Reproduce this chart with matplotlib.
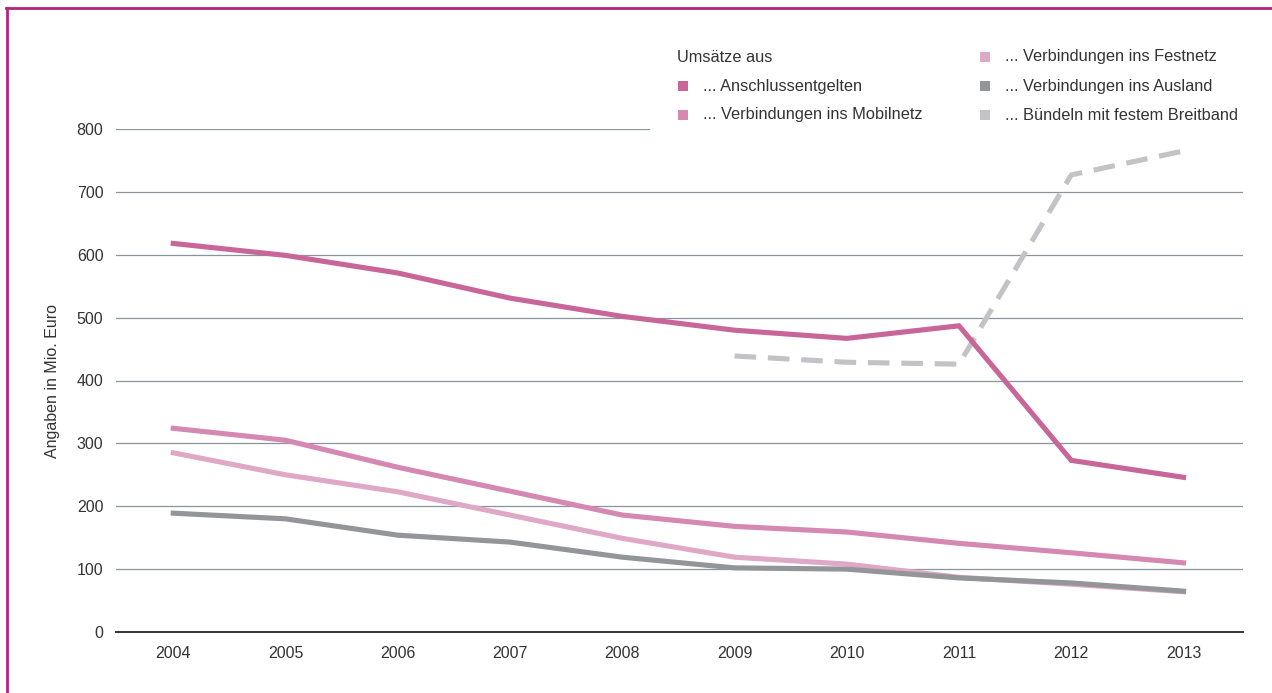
import matplotlib
matplotlib.use("Agg")
import matplotlib.pyplot as plt
from matplotlib.patches import Rectangle
from matplotlib.lines import Line2D

plt.rcParams['font.family'] = ['Liberation Sans', 'DejaVu Sans']

years = [2004, 2005, 2006, 2007, 2008, 2009, 2010, 2011, 2012, 2013]
anschluss = [618, 599, 571, 531, 502, 480, 467, 487, 273, 246]
mobilnetz = [324, 305, 262, 224, 186, 168, 159, 141, 126, 110]
festnetz = [285, 250, 223, 186, 149, 119, 108, 87, 76, 64]
ausland = [189, 180, 154, 143, 119, 102, 100, 86, 78, 65]
years_buendel = [2009, 2010, 2011, 2012, 2013]
buendel = [439, 429, 426, 727, 765]

yticks = [0, 100, 200, 300, 400, 500, 600, 700, 800]
legend_title = "Umsätze aus"
labels = ["... Anschlussentgelten", "... Verbindungen ins Mobilnetz",
          "... Verbindungen ins Festnetz", "... Verbindungen ins Ausland",
          "... Bündeln mit festem Breitband"]
colors = ["#c8669a", "#d588b1", "#dea8c6", "#949599", "#c3c3c7"]

W, H = 1272, 693
fig = plt.figure(figsize=(W / 100, H / 100), dpi=100)
ax = fig.add_axes([116 / W, 1 - 632 / H, (1243 - 116) / W, (632 - 129) / H])

lw = 3.7
ax.plot(years, anschluss, color=colors[0], lw=lw, zorder=5, solid_joinstyle='miter')
ax.plot(years, mobilnetz, color=colors[1], lw=lw, zorder=4)
ax.plot(years, festnetz, color=colors[2], lw=lw, zorder=3)
ax.plot(years, ausland, color=colors[3], lw=lw, zorder=3.5)
ax.plot(years_buendel, buendel, color=colors[4], lw=lw, zorder=4.5,
        dashes=(4.2, 2.3))

ax.set_xlim(2003.49, 2013.53)
ax.set_ylim(0, 800)
ax.set_yticks(yticks)
ax.set_xticks(years)
ax.tick_params(axis='both', length=0, labelsize=11.5, labelcolor='#333333')
ax.tick_params(axis='y', pad=9)
ax.tick_params(axis='x', pad=10)
for y in yticks[1:]:
    ax.axhline(y, color='#8a949c', lw=0.9, zorder=1)
for s in ['top', 'right', 'left']:
    ax.spines[s].set_visible(False)
ax.spines['bottom'].set_color('#333333')
ax.spines['bottom'].set_linewidth(1.4)
ax.set_ylabel("Angaben in Mio. Euro", fontsize=11.5, color='#333333', labelpad=12)

# white area behind legend covering the top gridline
fig.patches.append(Rectangle((650 / W, 1 - 140 / H), (1243 - 650) / W, 100 / H,
                             transform=fig.transFigure, facecolor='white',
                             edgecolor='none', zorder=3))

# legend
fs = 11.8
fig.text(677 / W, 1 - 57 / H, legend_title, fontsize=fs, color='#333333',
         va='center', ha='left', zorder=5)
pos = [(678, 86), (678, 115), (980, 57), (980, 86), (980, 115)]
for (px, py), lab, c in zip(pos, labels, colors):
    fig.patches.append(Rectangle((px / W, 1 - (py + 5) / H), 10 / W, 10 / H,
                                 transform=fig.transFigure, facecolor=c,
                                 edgecolor='none', zorder=5))
    fig.text((px + 25) / W, 1 - py / H, lab, fontsize=fs, color='#333333',
             va='center', ha='left', zorder=5)

# magenta frame (top and left)
fig.add_artist(Line2D([6 / W, 1], [1 - 8 / H, 1 - 8 / H], color='#b8237f',
                      lw=2, transform=fig.transFigure))
fig.add_artist(Line2D([7 / W, 7 / W], [0, 1 - 8 / H], color='#b8237f',
                      lw=2, transform=fig.transFigure))

fig.savefig("out.png", dpi=100)
